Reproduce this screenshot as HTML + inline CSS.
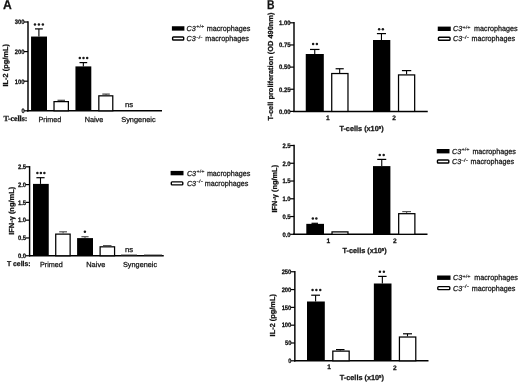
<!DOCTYPE html>
<html><head><meta charset="utf-8"><style>
html,body{margin:0;padding:0;background:#fff;width:520px;height:383px;overflow:hidden}
svg{display:block;will-change:transform;text-rendering:geometricPrecision}
</style></head><body>
<svg width="520" height="383" viewBox="0 0 520 383">
<rect width="520" height="383" fill="#fff"/>
<text x="3.0" y="8.55" font-size="12.8" font-family='"Liberation Sans", sans-serif' font-weight="bold" textLength="8.8" lengthAdjust="spacingAndGlyphs" fill="#111" stroke="#111" stroke-width="0.25">A</text>
<line x1="28.0" y1="21.3" x2="28.0" y2="111.5" stroke="#000" stroke-width="1.45"/>
<line x1="24.0" y1="22.0" x2="28.0" y2="22.0" stroke="#000" stroke-width="1.2"/>
<text x="24.5" y="24.3" font-size="6.4" font-family='"Liberation Sans", sans-serif' font-weight="bold" text-anchor="end" textLength="9.7" lengthAdjust="spacingAndGlyphs" fill="#111" stroke="#111" stroke-width="0.25">300</text>
<line x1="24.0" y1="51.6" x2="28.0" y2="51.6" stroke="#000" stroke-width="1.2"/>
<text x="24.5" y="53.9" font-size="6.4" font-family='"Liberation Sans", sans-serif' font-weight="bold" text-anchor="end" textLength="9.7" lengthAdjust="spacingAndGlyphs" fill="#111" stroke="#111" stroke-width="0.25">200</text>
<line x1="24.0" y1="81.2" x2="28.0" y2="81.2" stroke="#000" stroke-width="1.2"/>
<text x="24.5" y="83.5" font-size="6.4" font-family='"Liberation Sans", sans-serif' font-weight="bold" text-anchor="end" textLength="9.7" lengthAdjust="spacingAndGlyphs" fill="#111" stroke="#111" stroke-width="0.25">100</text>
<line x1="24.0" y1="110.8" x2="28.0" y2="110.8" stroke="#000" stroke-width="1.2"/>
<text x="24.5" y="113.1" font-size="6.4" font-family='"Liberation Sans", sans-serif' font-weight="bold" text-anchor="end" textLength="3.1" lengthAdjust="spacingAndGlyphs" fill="#111" stroke="#111" stroke-width="0.25">0</text>
<line x1="27" y1="110.8" x2="162" y2="110.8" stroke="#000" stroke-width="1.5"/>
<rect x="31.05" y="36.55" width="15.95" height="74.25" fill="#000"/>
<line x1="38.9" y1="28.9" x2="38.9" y2="36.55" stroke="#000" stroke-width="1.1"/>
<line x1="35.0" y1="28.9" x2="42.8" y2="28.9" stroke="#000" stroke-width="1.2"/>
<rect x="54.02" y="101.62" width="14.35" height="9.17" fill="#fff" stroke="#000" stroke-width="1.25"/>
<line x1="61.25" y1="100.3" x2="61.25" y2="101.0" stroke="#444" stroke-width="1.1"/>
<line x1="57.5" y1="100.3" x2="65.0" y2="100.3" stroke="#444" stroke-width="1.2"/>
<rect x="75.45" y="66.40" width="15.85" height="44.40" fill="#000"/>
<line x1="83.35" y1="62.6" x2="83.35" y2="66.4" stroke="#000" stroke-width="1.1"/>
<line x1="79.5" y1="62.6" x2="87.2" y2="62.6" stroke="#000" stroke-width="1.2"/>
<rect x="98.83" y="95.83" width="13.95" height="14.97" fill="#fff" stroke="#000" stroke-width="1.25"/>
<line x1="106.05" y1="94.1" x2="106.05" y2="95.2" stroke="#444" stroke-width="1.1"/>
<line x1="102.3" y1="94.1" x2="109.8" y2="94.1" stroke="#444" stroke-width="1.2"/>
<circle cx="34.95" cy="24.6" r="1.25" fill="#1a1a1a"/>
<circle cx="38.90" cy="24.6" r="1.25" fill="#1a1a1a"/>
<circle cx="42.85" cy="24.6" r="1.25" fill="#1a1a1a"/>
<circle cx="79.80" cy="57.9" r="1.25" fill="#1a1a1a"/>
<circle cx="83.50" cy="57.9" r="1.25" fill="#1a1a1a"/>
<circle cx="87.20" cy="57.9" r="1.25" fill="#1a1a1a"/>
<text x="125" y="107.3" font-size="7.3" font-family='"Liberation Sans", sans-serif' textLength="8.2" lengthAdjust="spacingAndGlyphs" fill="#111" stroke="#111" stroke-width="0.25">ns</text>
<text x="3.4" y="120.8" font-size="7.8" font-family='"Liberation Serif", serif' font-weight="bold" textLength="24.0" lengthAdjust="spacingAndGlyphs" fill="#111" stroke="#111" stroke-width="0.25">T-cells:</text>
<text x="38.5" y="121.5" font-size="7.3" font-family='"Liberation Sans", sans-serif' textLength="22.7" lengthAdjust="spacingAndGlyphs" fill="#111" stroke="#111" stroke-width="0.25">Primed</text>
<text x="84.65" y="121.5" font-size="7.3" font-family='"Liberation Sans", sans-serif' fill="#111" stroke="#111" stroke-width="0.25">Naive</text>
<text x="121.25" y="121.5" font-size="7.3" font-family='"Liberation Sans", sans-serif' textLength="34.4" lengthAdjust="spacingAndGlyphs" fill="#111" stroke="#111" stroke-width="0.25">Syngeneic</text>
<text transform="translate(8.0,86.5) rotate(-90)" font-size="7.3" font-family='"Liberation Sans", sans-serif' font-weight="bold" fill="#111" stroke="#111" stroke-width="0.25" textLength="42.4" lengthAdjust="spacingAndGlyphs">IL-2 (pg/mL)</text>
<rect x="171.90" y="26.25" width="12.50" height="4.40" fill="#000"/>
<rect x="172.60" y="37.05" width="11.10" height="3.00" fill="#fff" stroke="#000" stroke-width="1.4" rx="0.8"/>
<text x="186.6" y="30.8" font-size="7.3" font-family='"Liberation Sans", sans-serif' font-style="italic" textLength="9.2" lengthAdjust="spacingAndGlyphs" fill="#111" stroke="#111" stroke-width="0.25">C3</text>
<text x="196.20" y="28.40" font-size="4.6" font-family='"Liberation Sans", sans-serif' fill="#1a1a1a" stroke="#1a1a1a" stroke-width="0.15" textLength="8.0" lengthAdjust="spacingAndGlyphs">+/+</text>
<text x="206.8" y="30.8" font-size="7.7" font-family='"Liberation Sans", sans-serif' textLength="43.5" lengthAdjust="spacingAndGlyphs" fill="#111" stroke="#111" stroke-width="0.25">macrophages</text>
<text x="186.6" y="41.0" font-size="7.3" font-family='"Liberation Sans", sans-serif' font-style="italic" textLength="9.2" lengthAdjust="spacingAndGlyphs" fill="#111" stroke="#111" stroke-width="0.25">C3</text>
<text x="196.20" y="38.60" font-size="4.6" font-family='"Liberation Sans", sans-serif' fill="#1a1a1a" stroke="#1a1a1a" stroke-width="0.15" textLength="6.4" lengthAdjust="spacingAndGlyphs">-/-</text>
<text x="205.25" y="41.0" font-size="7.7" font-family='"Liberation Sans", sans-serif' textLength="43.5" lengthAdjust="spacingAndGlyphs" fill="#111" stroke="#111" stroke-width="0.25">macrophages</text>
<line x1="29.6" y1="166.10000000000002" x2="29.6" y2="256.45" stroke="#000" stroke-width="1.45"/>
<line x1="25.6" y1="166.8" x2="29.6" y2="166.8" stroke="#000" stroke-width="1.2"/>
<text x="26.1" y="169.10000000000002" font-size="6.4" font-family='"Liberation Sans", sans-serif' font-weight="bold" text-anchor="end" textLength="8.15" lengthAdjust="spacingAndGlyphs" fill="#111" stroke="#111" stroke-width="0.25">2.5</text>
<line x1="25.6" y1="184.59" x2="29.6" y2="184.59" stroke="#000" stroke-width="1.2"/>
<text x="26.1" y="186.89000000000001" font-size="6.4" font-family='"Liberation Sans", sans-serif' font-weight="bold" text-anchor="end" textLength="8.15" lengthAdjust="spacingAndGlyphs" fill="#111" stroke="#111" stroke-width="0.25">2.0</text>
<line x1="25.6" y1="202.38" x2="29.6" y2="202.38" stroke="#000" stroke-width="1.2"/>
<text x="26.1" y="204.68" font-size="6.4" font-family='"Liberation Sans", sans-serif' font-weight="bold" text-anchor="end" textLength="8.15" lengthAdjust="spacingAndGlyphs" fill="#111" stroke="#111" stroke-width="0.25">1.5</text>
<line x1="25.6" y1="220.17000000000002" x2="29.6" y2="220.17000000000002" stroke="#000" stroke-width="1.2"/>
<text x="26.1" y="222.47000000000003" font-size="6.4" font-family='"Liberation Sans", sans-serif' font-weight="bold" text-anchor="end" textLength="8.15" lengthAdjust="spacingAndGlyphs" fill="#111" stroke="#111" stroke-width="0.25">1.0</text>
<line x1="25.6" y1="237.96" x2="29.6" y2="237.96" stroke="#000" stroke-width="1.2"/>
<text x="26.1" y="240.26000000000002" font-size="6.4" font-family='"Liberation Sans", sans-serif' font-weight="bold" text-anchor="end" textLength="8.15" lengthAdjust="spacingAndGlyphs" fill="#111" stroke="#111" stroke-width="0.25">0.5</text>
<line x1="25.6" y1="255.75" x2="29.6" y2="255.75" stroke="#000" stroke-width="1.2"/>
<text x="26.1" y="258.05" font-size="6.4" font-family='"Liberation Sans", sans-serif' font-weight="bold" text-anchor="end" textLength="8.15" lengthAdjust="spacingAndGlyphs" fill="#111" stroke="#111" stroke-width="0.25">0.0</text>
<line x1="29" y1="255.75" x2="163.75" y2="255.75" stroke="#000" stroke-width="1.5"/>
<rect x="33.00" y="183.90" width="15.75" height="71.85" fill="#000"/>
<line x1="40.5" y1="177.7" x2="40.5" y2="183.9" stroke="#000" stroke-width="1.1"/>
<line x1="36.4" y1="177.7" x2="44.6" y2="177.7" stroke="#000" stroke-width="1.2"/>
<rect x="55.73" y="234.12" width="14.40" height="21.62" fill="#fff" stroke="#000" stroke-width="1.25"/>
<line x1="63.1" y1="231.8" x2="63.1" y2="233.5" stroke="#555" stroke-width="1.1"/>
<line x1="59.2" y1="231.8" x2="67.0" y2="231.8" stroke="#555" stroke-width="1.2"/>
<rect x="77.10" y="238.10" width="15.90" height="17.65" fill="#000"/>
<line x1="85.0" y1="236.7" x2="85.0" y2="238.1" stroke="#555" stroke-width="1.1"/>
<line x1="81.4" y1="236.7" x2="88.6" y2="236.7" stroke="#555" stroke-width="1.2"/>
<rect x="100.12" y="246.82" width="14.45" height="8.93" fill="#fff" stroke="#000" stroke-width="1.25"/>
<line x1="107.25" y1="245.6" x2="107.25" y2="246.2" stroke="#555" stroke-width="1.1"/>
<line x1="103.0" y1="245.6" x2="111.5" y2="245.6" stroke="#555" stroke-width="1.2"/>
<rect x="121.00" y="254.60" width="16.00" height="1.20" fill="#222"/>
<rect x="144.00" y="254.60" width="18.00" height="1.20" fill="#222"/>
<circle cx="37.40" cy="173.1" r="1.25" fill="#1a1a1a"/>
<circle cx="40.90" cy="173.1" r="1.25" fill="#1a1a1a"/>
<circle cx="44.40" cy="173.1" r="1.25" fill="#1a1a1a"/>
<circle cx="84.90" cy="231.8" r="1.25" fill="#1a1a1a"/>
<text x="125" y="251.8" font-size="7.3" font-family='"Liberation Sans", sans-serif' textLength="8.2" lengthAdjust="spacingAndGlyphs" fill="#111" stroke="#111" stroke-width="0.25">ns</text>
<text x="6.9" y="265.6" font-size="7.0" font-family='"Liberation Sans", sans-serif' font-weight="bold" textLength="23.7" lengthAdjust="spacingAndGlyphs" fill="#111" stroke="#111" stroke-width="0.25">T cells:</text>
<text x="40.0" y="266.8" font-size="7.3" font-family='"Liberation Sans", sans-serif' textLength="22.9" lengthAdjust="spacingAndGlyphs" fill="#111" stroke="#111" stroke-width="0.25">Primed</text>
<text x="86.2" y="266.8" font-size="7.3" font-family='"Liberation Sans", sans-serif' textLength="19.1" lengthAdjust="spacingAndGlyphs" fill="#111" stroke="#111" stroke-width="0.25">Naive</text>
<text x="123.0" y="266.8" font-size="7.3" font-family='"Liberation Sans", sans-serif' textLength="34.1" lengthAdjust="spacingAndGlyphs" fill="#111" stroke="#111" stroke-width="0.25">Syngeneic</text>
<text transform="translate(13.5,234.8) rotate(-90)" font-size="7.3" font-family='"Liberation Sans", sans-serif' font-weight="bold" fill="#111" stroke="#111" stroke-width="0.25" textLength="48.0" lengthAdjust="spacingAndGlyphs">IFN-&#947; (ng/mL)</text>
<rect x="170.60" y="170.90" width="12.90" height="4.40" fill="#000"/>
<rect x="171.30" y="181.90" width="11.50" height="3.00" fill="#fff" stroke="#000" stroke-width="1.4" rx="0.8"/>
<text x="186.9" y="175.5" font-size="7.3" font-family='"Liberation Sans", sans-serif' font-style="italic" textLength="9.2" lengthAdjust="spacingAndGlyphs" fill="#111" stroke="#111" stroke-width="0.25">C3</text>
<text x="196.50" y="173.10" font-size="4.6" font-family='"Liberation Sans", sans-serif' fill="#1a1a1a" stroke="#1a1a1a" stroke-width="0.15" textLength="8.0" lengthAdjust="spacingAndGlyphs">+/+</text>
<text x="206.9" y="175.5" font-size="7.7" font-family='"Liberation Sans", sans-serif' textLength="43.5" lengthAdjust="spacingAndGlyphs" fill="#111" stroke="#111" stroke-width="0.25">macrophages</text>
<text x="186.9" y="185.7" font-size="7.3" font-family='"Liberation Sans", sans-serif' font-style="italic" textLength="9.2" lengthAdjust="spacingAndGlyphs" fill="#111" stroke="#111" stroke-width="0.25">C3</text>
<text x="196.50" y="183.30" font-size="4.6" font-family='"Liberation Sans", sans-serif' fill="#1a1a1a" stroke="#1a1a1a" stroke-width="0.15" textLength="6.4" lengthAdjust="spacingAndGlyphs">-/-</text>
<text x="204.75" y="185.7" font-size="7.7" font-family='"Liberation Sans", sans-serif' textLength="43.5" lengthAdjust="spacingAndGlyphs" fill="#111" stroke="#111" stroke-width="0.25">macrophages</text>
<text x="266.9" y="8.55" font-size="12.8" font-family='"Liberation Sans", sans-serif' font-weight="bold" textLength="7.5" lengthAdjust="spacingAndGlyphs" fill="#111" stroke="#111" stroke-width="0.25">B</text>
<line x1="294.0" y1="22.1" x2="294.0" y2="112.10000000000001" stroke="#000" stroke-width="1.45"/>
<line x1="290.0" y1="22.8" x2="294.0" y2="22.8" stroke="#000" stroke-width="1.2"/>
<text x="290.5" y="25.1" font-size="6.4" font-family='"Liberation Sans", sans-serif' font-weight="bold" text-anchor="end" textLength="11.45" lengthAdjust="spacingAndGlyphs" fill="#111" stroke="#111" stroke-width="0.25">1.00</text>
<line x1="290.0" y1="44.95" x2="294.0" y2="44.95" stroke="#000" stroke-width="1.2"/>
<text x="290.5" y="47.25" font-size="6.4" font-family='"Liberation Sans", sans-serif' font-weight="bold" text-anchor="end" textLength="11.45" lengthAdjust="spacingAndGlyphs" fill="#111" stroke="#111" stroke-width="0.25">0.75</text>
<line x1="290.0" y1="67.1" x2="294.0" y2="67.1" stroke="#000" stroke-width="1.2"/>
<text x="290.5" y="69.39999999999999" font-size="6.4" font-family='"Liberation Sans", sans-serif' font-weight="bold" text-anchor="end" textLength="11.45" lengthAdjust="spacingAndGlyphs" fill="#111" stroke="#111" stroke-width="0.25">0.50</text>
<line x1="290.0" y1="89.24999999999999" x2="294.0" y2="89.24999999999999" stroke="#000" stroke-width="1.2"/>
<text x="290.5" y="91.54999999999998" font-size="6.4" font-family='"Liberation Sans", sans-serif' font-weight="bold" text-anchor="end" textLength="11.45" lengthAdjust="spacingAndGlyphs" fill="#111" stroke="#111" stroke-width="0.25">0.25</text>
<line x1="290.0" y1="111.39999999999999" x2="294.0" y2="111.39999999999999" stroke="#000" stroke-width="1.2"/>
<text x="290.5" y="113.69999999999999" font-size="6.4" font-family='"Liberation Sans", sans-serif' font-weight="bold" text-anchor="end" textLength="11.45" lengthAdjust="spacingAndGlyphs" fill="#111" stroke="#111" stroke-width="0.25">0.00</text>
<line x1="293" y1="111.4" x2="427.75" y2="111.4" stroke="#000" stroke-width="1.5"/>
<rect x="305.75" y="54.00" width="18.05" height="57.40" fill="#000"/>
<line x1="314.75" y1="49.45" x2="314.75" y2="54.0" stroke="#000" stroke-width="1.1"/>
<line x1="310.0" y1="49.45" x2="319.5" y2="49.45" stroke="#000" stroke-width="1.2"/>
<rect x="331.73" y="73.53" width="16.25" height="37.88" fill="#fff" stroke="#000" stroke-width="1.25"/>
<line x1="339.675" y1="68.75" x2="339.675" y2="72.9" stroke="#000" stroke-width="1.1"/>
<line x1="335.6" y1="68.75" x2="343.75" y2="68.75" stroke="#000" stroke-width="1.2"/>
<rect x="373.00" y="40.00" width="17.30" height="71.40" fill="#000"/>
<line x1="381.45" y1="33.6" x2="381.45" y2="40.0" stroke="#000" stroke-width="1.1"/>
<line x1="376.9" y1="33.6" x2="386.0" y2="33.6" stroke="#000" stroke-width="1.2"/>
<rect x="398.52" y="74.92" width="16.15" height="36.48" fill="#fff" stroke="#000" stroke-width="1.25"/>
<line x1="406.575" y1="70.6" x2="406.575" y2="74.3" stroke="#000" stroke-width="1.1"/>
<line x1="401.9" y1="70.6" x2="411.25" y2="70.6" stroke="#000" stroke-width="1.2"/>
<circle cx="313.15" cy="43.9" r="1.25" fill="#1a1a1a"/>
<circle cx="316.85" cy="43.9" r="1.25" fill="#1a1a1a"/>
<circle cx="379.15" cy="29.2" r="1.25" fill="#1a1a1a"/>
<circle cx="382.85" cy="29.2" r="1.25" fill="#1a1a1a"/>
<text x="326.0" y="119.8" font-size="6.6" font-family='"Liberation Sans", sans-serif' font-weight="bold" fill="#111" stroke="#111" stroke-width="0.25">1</text>
<text x="392.3" y="119.8" font-size="6.6" font-family='"Liberation Sans", sans-serif' font-weight="bold" fill="#111" stroke="#111" stroke-width="0.25">2</text>
<text x="339.4" y="131.2" font-size="7.3" font-family='"Liberation Sans", sans-serif' font-weight="bold" fill="#111" stroke="#111" stroke-width="0.25">T-cells (x10<tspan dy="-2.3" font-size="4.3">5</tspan><tspan dy="2.3">)</tspan></text>
<text transform="translate(273.0,120.6) rotate(-90)" font-size="7.3" font-family='"Liberation Sans", sans-serif' font-weight="bold" fill="#111" stroke="#111" stroke-width="0.25" textLength="108.0" lengthAdjust="spacingAndGlyphs">T-cell proliferation (OD 490nm)</text>
<rect x="437.75" y="26.60" width="13.00" height="4.40" fill="#000"/>
<rect x="438.45" y="37.30" width="11.60" height="3.00" fill="#fff" stroke="#000" stroke-width="1.4" rx="0.8"/>
<text x="453.0" y="31.0" font-size="7.3" font-family='"Liberation Sans", sans-serif' font-style="italic" textLength="9.2" lengthAdjust="spacingAndGlyphs" fill="#111" stroke="#111" stroke-width="0.25">C3</text>
<text x="462.60" y="28.60" font-size="4.6" font-family='"Liberation Sans", sans-serif' fill="#1a1a1a" stroke="#1a1a1a" stroke-width="0.15" textLength="8.0" lengthAdjust="spacingAndGlyphs">+/+</text>
<text x="474.1" y="31.0" font-size="7.7" font-family='"Liberation Sans", sans-serif' textLength="43.5" lengthAdjust="spacingAndGlyphs" fill="#111" stroke="#111" stroke-width="0.25">macrophages</text>
<text x="453.0" y="41.2" font-size="7.3" font-family='"Liberation Sans", sans-serif' font-style="italic" textLength="9.2" lengthAdjust="spacingAndGlyphs" fill="#111" stroke="#111" stroke-width="0.25">C3</text>
<text x="462.60" y="38.80" font-size="4.6" font-family='"Liberation Sans", sans-serif' fill="#1a1a1a" stroke="#1a1a1a" stroke-width="0.15" textLength="6.4" lengthAdjust="spacingAndGlyphs">-/-</text>
<text x="471.6" y="41.2" font-size="7.7" font-family='"Liberation Sans", sans-serif' textLength="43.5" lengthAdjust="spacingAndGlyphs" fill="#111" stroke="#111" stroke-width="0.25">macrophages</text>
<line x1="294.1" y1="144.8" x2="294.1" y2="235.0" stroke="#000" stroke-width="1.45"/>
<line x1="290.1" y1="145.5" x2="294.1" y2="145.5" stroke="#000" stroke-width="1.2"/>
<text x="290.6" y="147.8" font-size="6.4" font-family='"Liberation Sans", sans-serif' font-weight="bold" text-anchor="end" textLength="8.15" lengthAdjust="spacingAndGlyphs" fill="#111" stroke="#111" stroke-width="0.25">2.5</text>
<line x1="290.1" y1="163.26" x2="294.1" y2="163.26" stroke="#000" stroke-width="1.2"/>
<text x="290.6" y="165.56" font-size="6.4" font-family='"Liberation Sans", sans-serif' font-weight="bold" text-anchor="end" textLength="8.15" lengthAdjust="spacingAndGlyphs" fill="#111" stroke="#111" stroke-width="0.25">2.0</text>
<line x1="290.1" y1="181.02" x2="294.1" y2="181.02" stroke="#000" stroke-width="1.2"/>
<text x="290.6" y="183.32000000000002" font-size="6.4" font-family='"Liberation Sans", sans-serif' font-weight="bold" text-anchor="end" textLength="8.15" lengthAdjust="spacingAndGlyphs" fill="#111" stroke="#111" stroke-width="0.25">1.5</text>
<line x1="290.1" y1="198.78" x2="294.1" y2="198.78" stroke="#000" stroke-width="1.2"/>
<text x="290.6" y="201.08" font-size="6.4" font-family='"Liberation Sans", sans-serif' font-weight="bold" text-anchor="end" textLength="8.15" lengthAdjust="spacingAndGlyphs" fill="#111" stroke="#111" stroke-width="0.25">1.0</text>
<line x1="290.1" y1="216.54000000000002" x2="294.1" y2="216.54000000000002" stroke="#000" stroke-width="1.2"/>
<text x="290.6" y="218.84000000000003" font-size="6.4" font-family='"Liberation Sans", sans-serif' font-weight="bold" text-anchor="end" textLength="8.15" lengthAdjust="spacingAndGlyphs" fill="#111" stroke="#111" stroke-width="0.25">0.5</text>
<line x1="290.1" y1="234.3" x2="294.1" y2="234.3" stroke="#000" stroke-width="1.2"/>
<text x="290.6" y="236.60000000000002" font-size="6.4" font-family='"Liberation Sans", sans-serif' font-weight="bold" text-anchor="end" textLength="8.15" lengthAdjust="spacingAndGlyphs" fill="#111" stroke="#111" stroke-width="0.25">0.0</text>
<line x1="293" y1="234.3" x2="427.5" y2="234.3" stroke="#000" stroke-width="1.5"/>
<rect x="306.30" y="223.85" width="17.70" height="10.45" fill="#000"/>
<line x1="314.75" y1="223.3" x2="314.75" y2="223.85" stroke="#000" stroke-width="1.1"/>
<line x1="311.5" y1="223.3" x2="318.0" y2="223.3" stroke="#000" stroke-width="1.2"/>
<rect x="332.02" y="231.88" width="15.95" height="2.43" fill="#fff" stroke="#000" stroke-width="1.25"/>
<rect x="373.00" y="166.10" width="17.40" height="68.20" fill="#000"/>
<line x1="381.75" y1="159.4" x2="381.75" y2="166.1" stroke="#000" stroke-width="1.1"/>
<line x1="377.25" y1="159.4" x2="386.25" y2="159.4" stroke="#000" stroke-width="1.2"/>
<rect x="398.68" y="213.68" width="16.20" height="20.62" fill="#fff" stroke="#000" stroke-width="1.25"/>
<line x1="406.625" y1="211.6" x2="406.625" y2="213.05" stroke="#555" stroke-width="1.1"/>
<line x1="402.25" y1="211.6" x2="411.0" y2="211.6" stroke="#555" stroke-width="1.2"/>
<circle cx="312.85" cy="218.5" r="1.25" fill="#1a1a1a"/>
<circle cx="316.35" cy="218.5" r="1.25" fill="#1a1a1a"/>
<circle cx="379.72" cy="154.9" r="1.25" fill="#1a1a1a"/>
<circle cx="383.68" cy="154.9" r="1.25" fill="#1a1a1a"/>
<text x="326.5" y="242.6" font-size="6.6" font-family='"Liberation Sans", sans-serif' font-weight="bold" fill="#111" stroke="#111" stroke-width="0.25">1</text>
<text x="392.9" y="242.8" font-size="6.6" font-family='"Liberation Sans", sans-serif' font-weight="bold" fill="#111" stroke="#111" stroke-width="0.25">2</text>
<text x="342.5" y="253.1" font-size="7.3" font-family='"Liberation Sans", sans-serif' font-weight="bold" fill="#111" stroke="#111" stroke-width="0.25">T-cells (x10<tspan dy="-2.3" font-size="4.3">5</tspan><tspan dy="2.3">)</tspan></text>
<text transform="translate(277.4,212.5) rotate(-90)" font-size="7.3" font-family='"Liberation Sans", sans-serif' font-weight="bold" fill="#111" stroke="#111" stroke-width="0.25" textLength="47.6" lengthAdjust="spacingAndGlyphs">IFN-&#947; (ng/mL)</text>
<rect x="436.75" y="149.00" width="12.75" height="4.40" fill="#000"/>
<rect x="437.45" y="159.95" width="11.35" height="3.00" fill="#fff" stroke="#000" stroke-width="1.4" rx="0.8"/>
<text x="452.0" y="153.6" font-size="7.3" font-family='"Liberation Sans", sans-serif' font-style="italic" textLength="9.2" lengthAdjust="spacingAndGlyphs" fill="#111" stroke="#111" stroke-width="0.25">C3</text>
<text x="461.60" y="151.20" font-size="4.6" font-family='"Liberation Sans", sans-serif' fill="#1a1a1a" stroke="#1a1a1a" stroke-width="0.15" textLength="8.0" lengthAdjust="spacingAndGlyphs">+/+</text>
<text x="472.4" y="153.6" font-size="7.7" font-family='"Liberation Sans", sans-serif' textLength="43.5" lengthAdjust="spacingAndGlyphs" fill="#111" stroke="#111" stroke-width="0.25">macrophages</text>
<text x="452.0" y="163.9" font-size="7.3" font-family='"Liberation Sans", sans-serif' font-style="italic" textLength="9.2" lengthAdjust="spacingAndGlyphs" fill="#111" stroke="#111" stroke-width="0.25">C3</text>
<text x="461.60" y="161.50" font-size="4.6" font-family='"Liberation Sans", sans-serif' fill="#1a1a1a" stroke="#1a1a1a" stroke-width="0.15" textLength="6.4" lengthAdjust="spacingAndGlyphs">-/-</text>
<text x="470.5" y="163.9" font-size="7.7" font-family='"Liberation Sans", sans-serif' textLength="43.5" lengthAdjust="spacingAndGlyphs" fill="#111" stroke="#111" stroke-width="0.25">macrophages</text>
<line x1="294.85" y1="271.05" x2="294.85" y2="361.5" stroke="#000" stroke-width="1.45"/>
<line x1="290.85" y1="271.75" x2="294.85" y2="271.75" stroke="#000" stroke-width="1.2"/>
<text x="291.35" y="274.05" font-size="6.4" font-family='"Liberation Sans", sans-serif' font-weight="bold" text-anchor="end" textLength="9.7" lengthAdjust="spacingAndGlyphs" fill="#111" stroke="#111" stroke-width="0.25">250</text>
<line x1="290.85" y1="289.56" x2="294.85" y2="289.56" stroke="#000" stroke-width="1.2"/>
<text x="291.35" y="291.86" font-size="6.4" font-family='"Liberation Sans", sans-serif' font-weight="bold" text-anchor="end" textLength="9.7" lengthAdjust="spacingAndGlyphs" fill="#111" stroke="#111" stroke-width="0.25">200</text>
<line x1="290.85" y1="307.37" x2="294.85" y2="307.37" stroke="#000" stroke-width="1.2"/>
<text x="291.35" y="309.67" font-size="6.4" font-family='"Liberation Sans", sans-serif' font-weight="bold" text-anchor="end" textLength="9.7" lengthAdjust="spacingAndGlyphs" fill="#111" stroke="#111" stroke-width="0.25">150</text>
<line x1="290.85" y1="325.18" x2="294.85" y2="325.18" stroke="#000" stroke-width="1.2"/>
<text x="291.35" y="327.48" font-size="6.4" font-family='"Liberation Sans", sans-serif' font-weight="bold" text-anchor="end" textLength="9.7" lengthAdjust="spacingAndGlyphs" fill="#111" stroke="#111" stroke-width="0.25">100</text>
<line x1="290.85" y1="342.99" x2="294.85" y2="342.99" stroke="#000" stroke-width="1.2"/>
<text x="291.35" y="345.29" font-size="6.4" font-family='"Liberation Sans", sans-serif' font-weight="bold" text-anchor="end" textLength="6.4" lengthAdjust="spacingAndGlyphs" fill="#111" stroke="#111" stroke-width="0.25">50</text>
<line x1="290.85" y1="360.8" x2="294.85" y2="360.8" stroke="#000" stroke-width="1.2"/>
<text x="291.35" y="363.1" font-size="6.4" font-family='"Liberation Sans", sans-serif' font-weight="bold" text-anchor="end" textLength="3.1" lengthAdjust="spacingAndGlyphs" fill="#111" stroke="#111" stroke-width="0.25">0</text>
<line x1="294" y1="360.8" x2="428.5" y2="360.8" stroke="#000" stroke-width="1.5"/>
<rect x="307.00" y="301.50" width="17.80" height="59.30" fill="#000"/>
<line x1="315.6" y1="295.2" x2="315.6" y2="301.5" stroke="#000" stroke-width="1.1"/>
<line x1="311.2" y1="295.2" x2="320.0" y2="295.2" stroke="#000" stroke-width="1.2"/>
<rect x="332.82" y="351.12" width="16.35" height="9.68" fill="#fff" stroke="#000" stroke-width="1.25"/>
<line x1="340.25" y1="349.6" x2="340.25" y2="350.5" stroke="#000" stroke-width="1.1"/>
<line x1="336.0" y1="349.6" x2="344.5" y2="349.6" stroke="#000" stroke-width="1.2"/>
<rect x="373.85" y="283.50" width="17.65" height="77.30" fill="#000"/>
<line x1="382.35" y1="276.4" x2="382.35" y2="283.5" stroke="#000" stroke-width="1.1"/>
<line x1="378.1" y1="276.4" x2="386.6" y2="276.4" stroke="#000" stroke-width="1.2"/>
<rect x="399.43" y="337.02" width="16.35" height="23.78" fill="#fff" stroke="#000" stroke-width="1.25"/>
<line x1="407.5" y1="333.8" x2="407.5" y2="336.4" stroke="#000" stroke-width="1.1"/>
<line x1="403.0" y1="333.8" x2="412.0" y2="333.8" stroke="#000" stroke-width="1.2"/>
<circle cx="312.55" cy="289.9" r="1.25" fill="#1a1a1a"/>
<circle cx="316.40" cy="289.9" r="1.25" fill="#1a1a1a"/>
<circle cx="320.25" cy="289.9" r="1.25" fill="#1a1a1a"/>
<circle cx="379.92" cy="271.7" r="1.25" fill="#1a1a1a"/>
<circle cx="383.88" cy="271.7" r="1.25" fill="#1a1a1a"/>
<text x="327.25" y="369.1" font-size="6.6" font-family='"Liberation Sans", sans-serif' font-weight="bold" fill="#111" stroke="#111" stroke-width="0.25">1</text>
<text x="392.9" y="369.5" font-size="6.6" font-family='"Liberation Sans", sans-serif' font-weight="bold" fill="#111" stroke="#111" stroke-width="0.25">2</text>
<text x="339.75" y="379.8" font-size="7.3" font-family='"Liberation Sans", sans-serif' font-weight="bold" fill="#111" stroke="#111" stroke-width="0.25">T-cells (x10<tspan dy="-2.3" font-size="4.3">5</tspan><tspan dy="2.3">)</tspan></text>
<text transform="translate(275.3,336.4) rotate(-90)" font-size="7.3" font-family='"Liberation Sans", sans-serif' font-weight="bold" fill="#111" stroke="#111" stroke-width="0.25" textLength="42.3" lengthAdjust="spacingAndGlyphs">IL-2 (pg/mL)</text>
<rect x="437.10" y="275.50" width="13.40" height="4.40" fill="#000"/>
<rect x="437.80" y="286.60" width="12.00" height="3.00" fill="#fff" stroke="#000" stroke-width="1.4" rx="0.8"/>
<text x="453.0" y="280.0" font-size="7.3" font-family='"Liberation Sans", sans-serif' font-style="italic" textLength="9.2" lengthAdjust="spacingAndGlyphs" fill="#111" stroke="#111" stroke-width="0.25">C3</text>
<text x="462.60" y="277.60" font-size="4.6" font-family='"Liberation Sans", sans-serif' fill="#1a1a1a" stroke="#1a1a1a" stroke-width="0.15" textLength="8.0" lengthAdjust="spacingAndGlyphs">+/+</text>
<text x="474.25" y="280.0" font-size="7.7" font-family='"Liberation Sans", sans-serif' textLength="43.5" lengthAdjust="spacingAndGlyphs" fill="#111" stroke="#111" stroke-width="0.25">macrophages</text>
<text x="453.0" y="290.6" font-size="7.3" font-family='"Liberation Sans", sans-serif' font-style="italic" textLength="9.2" lengthAdjust="spacingAndGlyphs" fill="#111" stroke="#111" stroke-width="0.25">C3</text>
<text x="462.60" y="288.20" font-size="4.6" font-family='"Liberation Sans", sans-serif' fill="#1a1a1a" stroke="#1a1a1a" stroke-width="0.15" textLength="6.4" lengthAdjust="spacingAndGlyphs">-/-</text>
<text x="471.75" y="290.6" font-size="7.7" font-family='"Liberation Sans", sans-serif' textLength="43.5" lengthAdjust="spacingAndGlyphs" fill="#111" stroke="#111" stroke-width="0.25">macrophages</text>
</svg>
</body></html>
